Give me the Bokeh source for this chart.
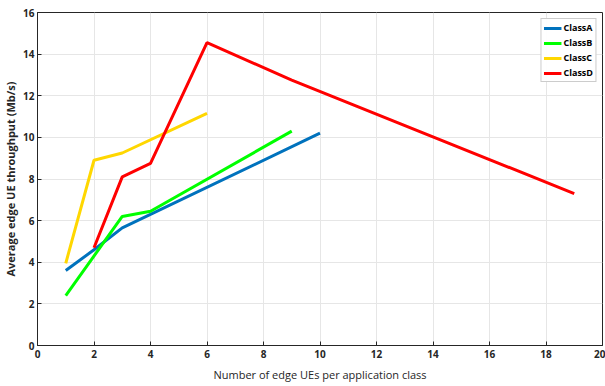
from bokeh.plotting import figure
from bokeh.models import Range1d, FixedTicker, Legend, LegendItem
from bokeh.embed import file_html
from bokeh.resources import INLINE

a_x = [1, 2, 3, 10]
a_y = [3.6, 4.6, 5.65, 10.2]
b_x = [1, 3, 4, 9]
b_y = [2.4, 6.2, 6.45, 10.3]
c_x = [1, 2, 3, 6]
c_y = [3.95, 8.9, 9.25, 11.15]
d_x = [2, 3, 4, 6, 9, 19]
d_y = [4.7, 8.1, 8.75, 14.55, 12.75, 7.3]

names = ["ClassA", "ClassB", "ClassC", "ClassD"]
colors = ["#0072BD", "#00FF00", "#FFD700", "#FF0000"]
x_ticks = list(range(0, 21, 2))
y_ticks = list(range(0, 17, 2))

FONT = "Open Sans"

p = figure(width=605, height=386, output_backend="svg", toolbar_location=None,
           x_range=Range1d(0, 20), y_range=Range1d(0, 16),
           min_border_left=10, min_border_right=3, min_border_top=12, min_border_bottom=41)
p.background_fill_color = "white"
p.border_fill_color = "white"
p.outline_line_color = "#262626"
p.outline_line_width = 1

renderers = []
for xs, ys, col in zip([a_x, b_x, c_x, d_x], [a_y, b_y, c_y, d_y], colors):
    r = p.line(xs, ys, line_color=col, line_width=3)
    renderers.append(r)

for ax in (p.xaxis[0], p.yaxis[0]):
    ax.major_label_text_font = FONT
    ax.major_label_text_font_size = "10px"
    ax.major_label_text_font_style = "bold"
    ax.major_label_text_color = "#262626"
    ax.axis_line_color = "#262626"
    ax.major_tick_line_color = "#262626"
    ax.major_tick_in = 4
    ax.major_tick_out = 0
    ax.minor_tick_line_color = None
    ax.axis_label_text_font = FONT
    ax.axis_label_text_color = "#262626"
    ax.axis_label_text_font_size = "11px"

p.xaxis.ticker = FixedTicker(ticks=x_ticks)
p.yaxis.ticker = FixedTicker(ticks=y_ticks)
p.xaxis.axis_label = "Number of edge UEs per application class"
p.xaxis.axis_label_text_font_style = "normal"
p.xaxis.axis_label_standoff = 6
p.yaxis.axis_label = "Average edge UE throughput (Mb/s)"
p.yaxis.axis_label_text_font_style = "bold"
p.yaxis.axis_label_standoff = 2
p.xaxis.major_label_standoff = 4
p.yaxis.major_label_standoff = 3

p.xgrid.ticker = FixedTicker(ticks=x_ticks)
p.ygrid.ticker = FixedTicker(ticks=y_ticks)
p.grid.grid_line_color = "#e6e6e6"
p.grid.grid_line_width = 1

legend = Legend(items=[LegendItem(label=n, renderers=[r]) for n, r in zip(names, renderers)],
                location="top_right")
legend.label_text_font = FONT
legend.label_text_font_size = "9px"
legend.label_text_font_style = "bold"
legend.label_text_color = "#000000"
legend.glyph_width = 18
legend.glyph_height = 12
legend.label_standoff = 2
legend.spacing = 2
legend.padding = 2
legend.margin = 6
legend.border_line_color = "#999999"
legend.border_line_width = 1
legend.label_height = 12
p.add_layout(legend)

open("out.html", "w").write(file_html(p, INLINE))
